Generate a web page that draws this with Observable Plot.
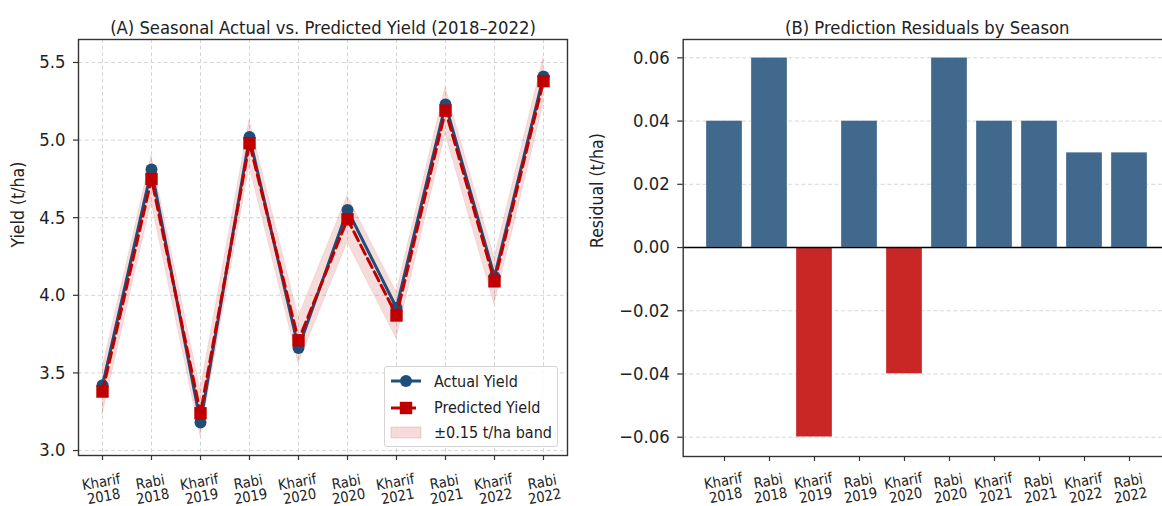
<!DOCTYPE html>
<html><head><meta charset="utf-8">
<script src="https://cdn.jsdelivr.net/npm/d3@7"></script>
<script src="https://cdn.jsdelivr.net/npm/@observablehq/plot@0.6"></script>
<style>
html,body{margin:0;padding:0;background:#fff;overflow:hidden;}
#wrap{position:relative;width:1162px;height:506px;overflow:hidden;font-family:"DejaVu Sans Condensed","DejaVu Sans",sans-serif;font-stretch:condensed;}
.panel{position:absolute;top:0;}
svg text{font-stretch:condensed;}
#legend{position:absolute;left:384px;top:366px;width:174px;height:81px;box-sizing:border-box;border:1px solid #d4d4d4;border-radius:3px;background:rgba(255,255,255,0.85);font-size:16px;color:#222;}
.item{position:absolute;left:0;height:20px;display:flex;align-items:center;}
.item svg{margin-left:5px;margin-right:12px;}
</style></head>
<body><div id="wrap">
<div id="pa" class="panel" style="left:0;width:580px;height:506px"></div>
<div id="pb" class="panel" style="left:580px;width:600px;height:506px"></div>
<div id="legend"></div>
</div>
<script>
// ---- data ----
const seasons = ["Kharif","Rabi","Kharif","Rabi","Kharif","Rabi","Kharif","Rabi","Kharif","Rabi"];
const years = [2018,2018,2019,2019,2020,2020,2021,2021,2022,2022];
const actualYield = [3.42,4.81,3.18,5.02,3.66,4.55,3.92,5.23,4.12,5.41];
const predictedYield = [3.38,4.75,3.24,4.98,3.71,4.49,3.87,5.19,4.09,5.38];
const residuals = [0.04,0.06,-0.06,0.04,-0.04,0.06,0.04,0.04,0.03,0.03];
const bandHalfWidth = 0.15;
const yTicksA = [3.0,3.5,4.0,4.5,5.0,5.5];
const yTicksB = [-0.06,-0.04,-0.02,0.00,0.02,0.04,0.06];
const titleA = "(A) Seasonal Actual vs. Predicted Yield (2018–2022)";
const titleB = "(B) Prediction Residuals by Season";
const yLabelA = "Yield (t/ha)";
const yLabelB = "Residual (t/ha)";
const legendLabels = ["Actual Yield","Predicted Yield","±0.15 t/ha band"];

// ---- styles ----
const cActual = "#1f4e79", cPred = "#c00000";
const cPos = "#41698d", cNeg = "#c92626";
const font = "'DejaVu Sans Condensed','DejaVu Sans',sans-serif";
const gridStyle = {stroke:"#d6d6d6", strokeOpacity:1, strokeWidth:1, strokeDasharray:"4,2.6"};

const labels = seasons.map((s,i) => `${s}\n${years[i]}`);
const rows = labels.map((l,i) => ({
  label:l, actual:actualYield[i], pred:predictedYield[i],
  lo:predictedYield[i]-bandHalfWidth, hi:predictedYield[i]+bandHalfWidth,
  res:residuals[i], col: residuals[i] >= 0 ? cPos : cNeg
}));

const plotA = Plot.plot({
  width:580, height:506,
  marginLeft:78, marginRight:13, marginTop:39, marginBottom:51,
  style:{fontFamily:font, background:"transparent", overflow:"visible", color:"#222"},
  x:{type:"point", domain:labels, padding:0.45},
  y:{domain:[2.968,5.648]},
  marks:[
    Plot.gridX(labels, gridStyle),
    Plot.gridY(yTicksA, gridStyle),
    Plot.areaY(rows, {x:"label", y1:"lo", y2:"hi", fill:cPred, fillOpacity:0.14, stroke:cPred, strokeOpacity:0.08}),
    Plot.lineY(rows, {x:"label", y:"actual", stroke:cActual, strokeWidth:3}),
    Plot.dot(rows, {x:"label", y:"actual", r:6, fill:cActual}),
    Plot.lineY(rows, {x:"label", y:"pred", stroke:cPred, strokeWidth:3, strokeDasharray:"10,5"}),
    Plot.dot(rows, {x:"label", y:"pred", symbol:"square", r:7, fill:cPred}),
    Plot.axisY(yTicksA, {tickFormat:d3.format(".1f"), fontSize:18.3, tickSize:5, tickPadding:8, label:null, stroke:"#333", strokeWidth:1.2}),
    Plot.axisX(labels, {tickFormat:() => "", tickSize:5, label:null, stroke:"#333", strokeWidth:1.2}),
    Plot.text(rows, {x:"label", text:"label", frameAnchor:"bottom", dy:34, rotate:-10, fontSize:14.6, lineHeight:1.0, textAnchor:"middle", lineAnchor:"middle", fill:"#222"}),
    Plot.text([yLabelA], {frameAnchor:"left", dx:-60, rotate:-90, fontSize:17.5, fill:"#222"}),
    Plot.text([titleA], {frameAnchor:"top", dy:-19, fontSize:18.3, fill:"#222"}),
    Plot.frame({stroke:"#333", strokeWidth:1.4})
  ]
});
document.getElementById("pa").appendChild(plotA);

const plotB = Plot.plot({
  width:600, height:506,
  marginLeft:102.7, marginRight:9.3, marginTop:39, marginBottom:50,
  style:{fontFamily:font, background:"transparent", overflow:"visible", color:"#222"},
  x:{type:"band", domain:labels, paddingInner:0.2, paddingOuter:0.49},
  y:{domain:[-0.0661,0.0658]},
  color:{type:"identity"},
  marks:[
    Plot.gridY(yTicksB, gridStyle),
    Plot.barY(rows, {x:"label", y:"res", fill:"col", stroke:"#ffffff", strokeWidth:0.6, strokeOpacity:0.5}),
    Plot.ruleY([0], {stroke:"#000", strokeWidth:1.5}),
    Plot.axisY(yTicksB, {tickFormat:d3.format(".2f"), fontSize:18.3, tickSize:5.5, tickPadding:8, label:null, stroke:"#333", strokeWidth:1.2}),
    Plot.axisX(labels, {tickFormat:() => "", tickSize:5, label:null, stroke:"#333", strokeWidth:1.2}),
    Plot.text(rows, {x:"label", text:"label", frameAnchor:"bottom", dy:32, rotate:-10, fontSize:14.6, lineHeight:1.0, textAnchor:"middle", lineAnchor:"middle", fill:"#222"}),
    Plot.text([yLabelB], {frameAnchor:"left", dx:-86, rotate:-90, fontSize:17.5, fill:"#222"}),
    Plot.text([titleB], {frameAnchor:"top", dy:-19, fontSize:18.3, fill:"#222"}),
    Plot.frame({stroke:"#333", strokeWidth:1.4})
  ]
});
document.getElementById("pb").appendChild(plotB);

// ---- legend ----
const lg = document.getElementById("legend");
const handles = [
  `<svg width="32" height="14"><line x1="1" y1="7" x2="31" y2="7" stroke="${cActual}" stroke-width="3"/><circle cx="16" cy="7" r="6" fill="${cActual}"/></svg>`,
  `<svg width="32" height="14"><line x1="1" y1="7" x2="31" y2="7" stroke="${cPred}" stroke-width="3" stroke-dasharray="10,5"/><rect x="9.8" y="0.8" width="12.4" height="12.4" fill="${cPred}"/></svg>`,
  `<svg width="32" height="14"><rect x="1" y="1" width="30" height="11" fill="${cPred}" fill-opacity="0.14" stroke="${cPred}" stroke-opacity="0.15"/></svg>`
];
const tops = [4, 30.5, 55.5];
legendLabels.forEach((t,i) => {
  const d = document.createElement("div");
  d.className = "item";
  d.style.top = tops[i] + "px";
  d.innerHTML = handles[i] + `<span>${t}</span>`;
  lg.appendChild(d);
});
</script>
</body></html>
